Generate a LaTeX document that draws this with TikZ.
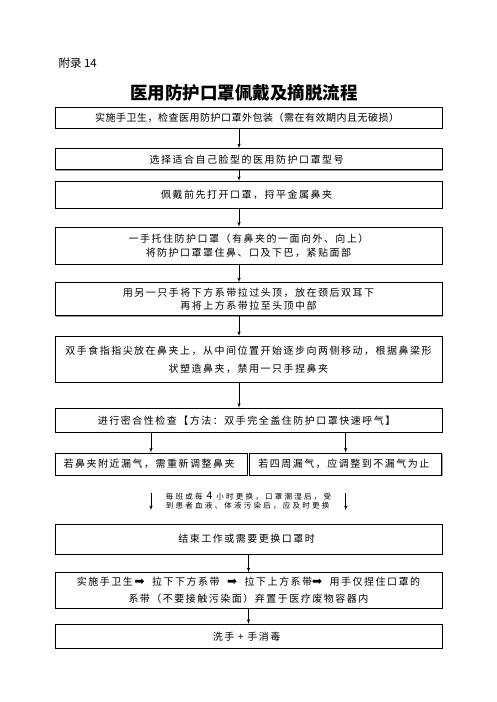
\documentclass[tikz,border=0pt]{standalone}
\usepackage{fontspec}
\newfontfamily\cjkplain{Noto Sans CJK SC}
\newfontfamily\cjk[LetterSpace=15]{Noto Sans CJK SC}
\newfontfamily\cjktight[LetterSpace=5]{Noto Sans CJK SC}
\newfontfamily\cjknote[LetterSpace=30]{Noto Sans CJK SC}
\newfontfamily\symfont{DejaVu Sans}
\usetikzlibrary{arrows,positioning,shadows}

\begin{document}
\begin{tikzpicture}[x=1pt, y=1pt, auto]

    \tikzstyle{block} = [
        rectangle,
        draw,
        line width=0.7pt,
        fill=white,
        minimum width=387pt,
        inner sep=0pt,
        align=center,
        font=\cjk\fontsize{10}{14}\selectfont,
        drop shadow={shadow xshift=0.8pt, shadow yshift=-0.8pt, fill=gray!80, opacity=1},
    ]
    \tikzstyle{line} = [
        draw,
        line width=0.6pt,
        -latex',
    ]

    \useasboundingbox (0,0) rectangle (496,-702);

    \node [anchor=west, font=\cjkplain\fontsize{11.5}{12}\selectfont] (fulu) at (55,-63) {附录 14};
    \node [font=\cjkplain\bfseries\fontsize{17.5}{20}\selectfont] (title) at (244,-93) {医用防护口罩佩戴及摘脱流程};

    \node [block, minimum height=21pt, font=\cjktight\fontsize{10}{14}\selectfont] (wsh) at (248.5,-117.5) {
        实施手卫生，检查医用防护口罩外包装（需在有效期内且无破损）
    };
    \node [block, minimum height=21pt, below=20pt of wsh] (xz) {
        选择适合自己脸型的医用防护口罩型号
    };
    \node [block, minimum height=27pt, below=11pt of xz] (dk) {
        佩戴前先打开口罩，捋平金属鼻夹
    };
    \node [block, minimum height=37pt, below=18pt of dk] (tz) {
        一手托住防护口罩（有鼻夹的一面向外、向上）\\
        将防护口罩罩住鼻、口及下巴，紧贴面部
    };
    \node [block, minimum height=33pt, below=18pt of tz, font=\cjk\fontsize{10}{13}\selectfont] (xd) {
        用另一只手将下方系带拉过头顶，放在颈后双耳下\\
        再将上方系带拉至头顶中部
    };
    \node [block, minimum height=46pt, below=20pt of xd, font=\cjk\fontsize{10}{18}\selectfont] (bj) {
        双手食指指尖放在鼻夹上，从中间位置开始逐步向两侧移动，根据鼻梁形\\
        状塑造鼻夹，禁用一只手捏鼻夹
    };
    \node [block, minimum height=24pt, below=25pt of bj] (jc) {
        进行密合性检查【方法：双手完全盖住防护口罩快速呼气】
    };

    \path [line] ([xshift=-9.5pt]wsh.south) -- ([xshift=-9.5pt]xz.north);
    \path [line] ([xshift=-9.5pt]xz.south) -- ([xshift=-9.5pt]dk.north);
    \path [line] ([xshift=-9.5pt]dk.south) -- ([xshift=-9.5pt]tz.north);
    \path [line] ([xshift=-9.5pt]tz.south) -- ([xshift=-9.5pt]xd.north);
    \path [line] ([xshift=-9.5pt]xd.south) -- ([xshift=-9.5pt]bj.north);
    \path [line] ([xshift=-9.5pt]bj.south) -- ([xshift=-9.5pt]jc.north);

    \node [block, minimum width=192pt, minimum height=22pt,
        below=20pt of jc.south west, anchor=north west
    ](lqb) {
        若鼻夹附近漏气，需重新调整鼻夹
    };
    \node [block, minimum width=192pt, minimum height=22pt,
        right=2pt of lqb
    ](lqs) {
        若四周漏气，应调整到不漏气为止
    };

    \path [line] (jc.south -| lqb.north) -- (lqb.north);
    \path [line] (jc.south -| lqs.north) -- (lqs.north);

    \coordinate [below=18pt of lqb] (lqb1);
    \coordinate [below=35pt of lqb] (lqb2);
    \coordinate [below=18pt of lqs] (lqs1);
    \coordinate [below=35pt of lqs] (lqs2);
    \path [line] (lqb1) -- (lqb2);
    \path [line] (lqs1) -- (lqs2);

    \node [below=59pt of jc, inner sep=0pt, align=left,
        font=\cjknote\fontsize{7.5}{9}\selectfont
    ](gh) {
        每班或每 {\cjkplain\fontsize{10.5}{9}\selectfont 4} 小时更换，口罩潮湿后，受\\
        到患者血液、体液污染后，应及时更换
    };

    \node [block, minimum height=30pt, below=91pt of jc] (js) {
        结束工作或需要更换口罩时
    };
    \node [block, minimum height=36pt, below=18pt of js, font=\cjk\fontsize{10}{17}\selectfont] (zt) {
        实施手卫生\,{\symfont\fontsize{12}{12}\selectfont ➡}\ \ 拉下下方系带\ \ {\symfont\fontsize{12}{12}\selectfont ➡}\ \ 拉下上方系带{\symfont\fontsize{12}{12}\selectfont ➡}\ \ 用手仅捏住口罩的\\
        系带（不要接触污染面）弃置于医疗废物容器内
    };
    \node [block, minimum height=24pt, below=15pt of zt] (xs) {
        洗手 + 手消毒
    };

    \path [line] (js) -- (zt);
    \path [line] (zt) -- (xs);

\end{tikzpicture}
\end{document}
